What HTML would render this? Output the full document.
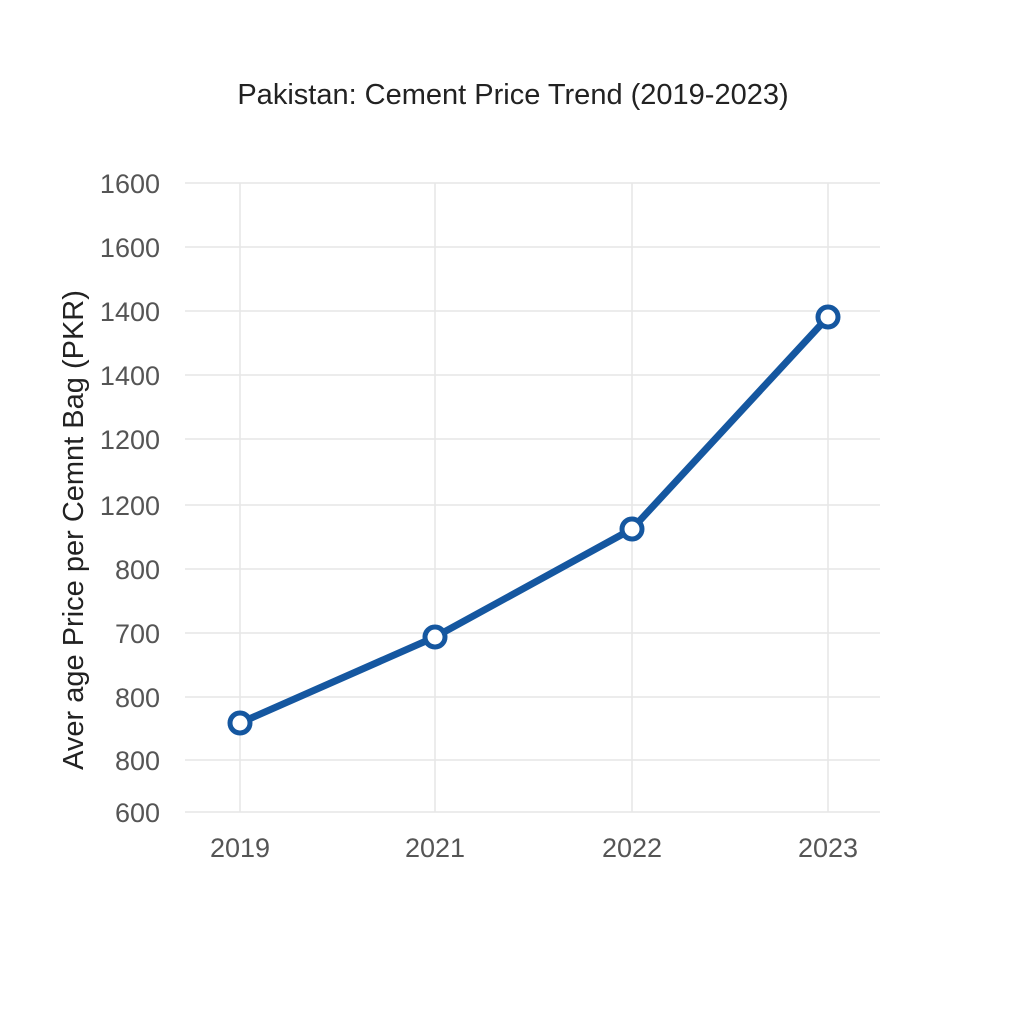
<!DOCTYPE html>
<html><head><style>body{margin:0;background:#fff}</style></head><body>
<svg width="1024" height="1024" xmlns="http://www.w3.org/2000/svg" font-family="Liberation Sans, DejaVu Sans, sans-serif">
<rect width="1024" height="1024" fill="#fff"/>
<text x="513" y="104" text-anchor="middle" font-size="29" fill="#222">Pakistan: Cement Price Trend (2019-2023)</text>
<g stroke="#e6e6e6" stroke-width="1.5">
<line x1="185" x2="880" y1="183" y2="183"/><line x1="185" x2="880" y1="247" y2="247"/>
<line x1="185" x2="880" y1="311" y2="311"/><line x1="185" x2="880" y1="375" y2="375"/>
<line x1="185" x2="880" y1="439" y2="439"/><line x1="185" x2="880" y1="505" y2="505"/>
<line x1="185" x2="880" y1="569" y2="569"/><line x1="185" x2="880" y1="633" y2="633"/>
<line x1="185" x2="880" y1="697" y2="697"/><line x1="185" x2="880" y1="760" y2="760"/>
<line x1="185" x2="880" y1="812" y2="812"/>
<line x1="240" x2="240" y1="183" y2="812"/><line x1="435" x2="435" y1="183" y2="812"/>
<line x1="632" x2="632" y1="183" y2="812"/><line x1="828" x2="828" y1="183" y2="812"/>
</g>
<g font-size="27" fill="#555" text-anchor="end">
<text x="160" y="193">1600</text><text x="160" y="257">1600</text><text x="160" y="321">1400</text>
<text x="160" y="385">1400</text><text x="160" y="449">1200</text><text x="160" y="515">1200</text>
<text x="160" y="579">800</text><text x="160" y="643">700</text><text x="160" y="707">800</text>
<text x="160" y="770">800</text><text x="160" y="822">600</text>
</g>
<g font-size="27" fill="#555" text-anchor="middle">
<text x="240" y="857">2019</text><text x="435" y="857">2021</text><text x="632" y="857">2022</text><text x="828" y="857">2023</text>
</g>
<text transform="translate(83,530) rotate(-90)" text-anchor="middle" font-size="29" fill="#222">Aver age Price per Cemnt Bag (PKR)</text>
<polyline points="240,723 435,637 632,529 828,317" fill="none" stroke="#1557a0" stroke-width="7" stroke-linejoin="round"/>
<g fill="#fff" stroke="#1557a0" stroke-width="5">
<circle cx="240" cy="723" r="10"/><circle cx="435" cy="637" r="10"/><circle cx="632" cy="529" r="10"/><circle cx="828" cy="317" r="10"/>
</g>
</svg>
</body></html>
